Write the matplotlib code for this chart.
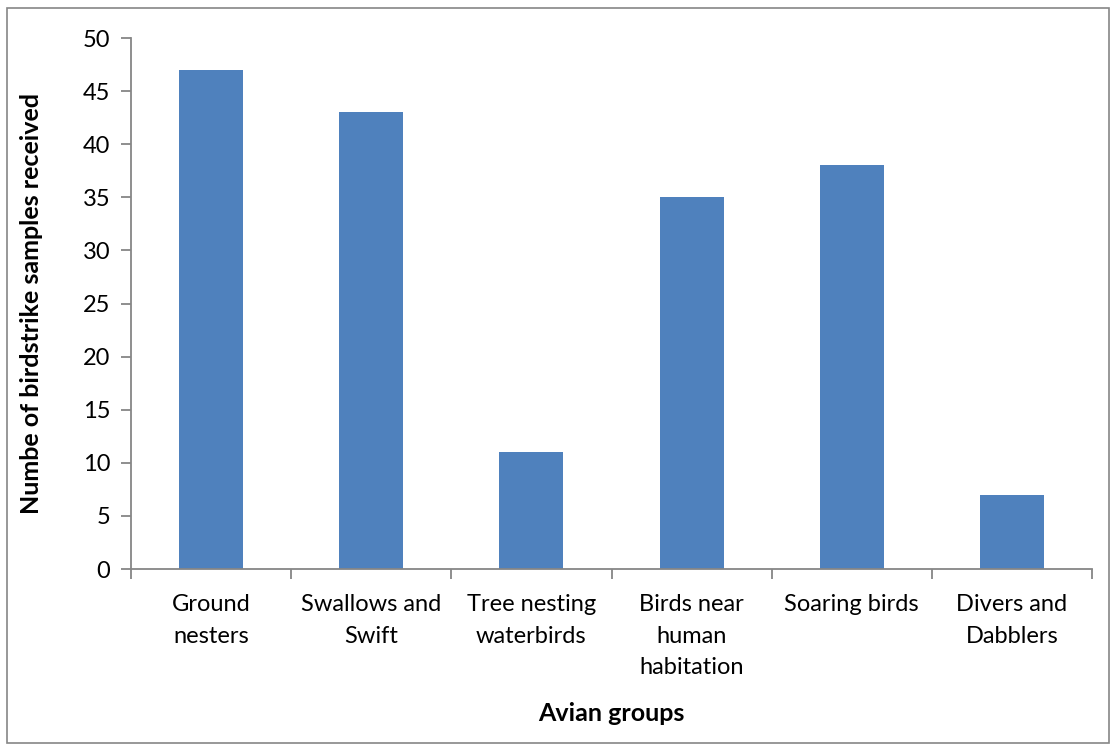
import matplotlib
matplotlib.use("Agg")
import matplotlib.pyplot as plt
from matplotlib.patches import Rectangle

categories = ["Ground\nnesters", "Swallows and\nSwift", "Tree nesting\nwaterbirds",
              "Birds near\nhuman\nhabitation", "Soaring birds", "Divers and\nDabblers"]
values = [47, 43, 11, 35, 38, 7]

plt.rcParams['font.family'] = ['Lato', 'DejaVu Sans']

fig = plt.figure(figsize=(11.17, 7.5), dpi=100)
ax = fig.add_axes([131/1117, 1 - 569/750, (1092 - 131)/1117, (569 - 38)/750])

x = list(range(len(categories)))
ax.bar(x, values, width=0.4, color="#4F81BD", zorder=2)

ax.set_xlim(-0.5, len(categories) - 0.5)
ax.set_ylim(0, 50)
ax.set_yticks(range(0, 51, 5))
ax.set_xticks(x)
ax.set_xticklabels(categories, fontsize=17, linespacing=1.62, va="top")
ax.set_xticks([i - 0.5 for i in range(len(categories) + 1)], minor=True)
ax.tick_params(axis="x", which="major", length=0, pad=18)
ax.tick_params(axis="x", which="minor", length=7, color="#868686", width=1.3)
ax.tick_params(axis="y", length=7, color="#868686", width=1.3, labelsize=17, pad=8)

for s in ["top", "right"]:
    ax.spines[s].set_visible(False)
for s in ["left", "bottom"]:
    ax.spines[s].set_color("#868686")
    ax.spines[s].set_linewidth(1.3)

ax.set_ylabel("Numbe of birdstrike samples received", fontsize=18, fontweight="bold")
ax.set_xlabel("Avian groups", fontsize=18, fontweight="bold")
ax.yaxis.set_label_coords(-0.092, 0.5)
ax.xaxis.set_label_coords(0.5, -0.25)

fig.patches.append(Rectangle((7/1117, 7/750), 1102/1117, 735/750, transform=fig.transFigure,
                             fill=False, edgecolor="#868686", linewidth=1.2))

fig.savefig("out.png", dpi=100)
